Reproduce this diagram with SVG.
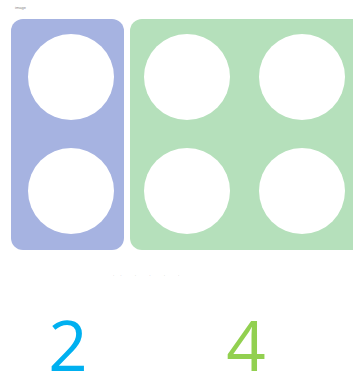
<svg xmlns="http://www.w3.org/2000/svg" width="353" height="378" viewBox="0 0 353 378">
<style>
.hole{fill:#ffffff}
.tiny{font-family:"Liberation Sans",Arial,sans-serif;font-size:4px;fill:#888888}
.num{font-family:"Open Sans","DejaVu Sans",sans-serif;font-size:69px;font-weight:400}
</style>
<rect width="353" height="378" fill="#ffffff"/>
<text class="tiny" x="15" y="9">image</text>
<g id="group-2">
<rect x="11" y="19" width="113" height="231" rx="12" fill="#a6b3e1"/>
<circle class="hole" cx="71" cy="77" r="43"/>
<circle class="hole" cx="71" cy="191" r="43"/>
</g>
<g id="group-4">
<rect x="130" y="19" width="235" height="231" rx="12" fill="#b5e0bb"/>
<circle class="hole" cx="187" cy="77" r="43"/>
<circle class="hole" cx="302" cy="77" r="43"/>
<circle class="hole" cx="187" cy="191" r="43"/>
<circle class="hole" cx="302" cy="191" r="43"/>
</g>
<text class="tiny" x="113" y="277" letter-spacing="6">·· · · · ·</text>
<text class="num" x="68" y="371" text-anchor="middle" fill="#00b0f0">2</text>
<text class="num" x="246" y="371" text-anchor="middle" fill="#92d050">4</text>
</svg>
